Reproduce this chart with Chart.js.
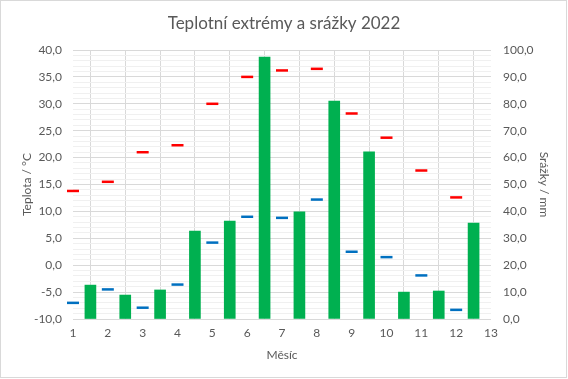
<!DOCTYPE html>
<html>
<head>
<meta charset="utf-8">
<script src="https://cdn.jsdelivr.net/npm/chart.js@4/dist/chart.umd.min.js"></script>
<style>
html,body{margin:0;padding:0;background:#fff;}
#wrap{width:568px;height:379px;position:relative;}
</style>
</head>
<body>
<div id="wrap"><canvas id="c" width="568" height="379"></canvas></div>
<script>
const months = [1,2,3,4,5,6,7,8,9,10,11,12];
const maxTemp = [13.8, 15.5, 21.0, 22.3, 30.0, 35.0, 36.2, 36.5, 28.2, 23.7, 17.6, 12.6];
const minTemp = [-7.0, -4.5, -7.9, -3.6, 4.2, 9.0, 8.8, 12.2, 2.5, 1.5, -1.9, -8.3];
const precip = [12.6, 8.9, 10.8, 32.7, 36.4, 97.4, 39.8, 81.0, 62.1, 10.0, 10.4, 35.7];
const precipX = [1.5,2.5,3.5,4.5,5.5,6.5,7.5,8.5,9.5,10.5,11.5,12.5];

const FONT = 'Lato, "Liberation Sans", sans-serif';
const TXT = '#595959';
const fmt = v => v.toFixed(1).replace('.', ',');

const bgPlugin = {
  id: 'bg',
  beforeDraw(chart) {
    const ctx = chart.ctx;
    ctx.save();
    ctx.fillStyle = '#fff';
    ctx.fillRect(0, 0, chart.width, chart.height);
    ctx.strokeStyle = '#d9d9d9';
    ctx.lineWidth = 1;
    ctx.strokeRect(0.5, 0.5, chart.width - 2, chart.height - 2);
    ctx.restore();
  }
};

new Chart(document.getElementById('c'), {
  type: 'scatter',
  data: {
    datasets: [
      {
        label: 'Max',
        data: months.map((m, i) => ({x: m, y: maxTemp[i]})),
        pointStyle: 'line',
        radius: 6,
        borderColor: '#ff0000',
        backgroundColor: '#ff0000',
        borderWidth: 2.5,
        yAxisID: 'y',
        clip: false,
        order: 1
      },
      {
        label: 'Min',
        data: months.map((m, i) => ({x: m, y: minTemp[i]})),
        pointStyle: 'line',
        radius: 6,
        borderColor: '#0070c0',
        backgroundColor: '#0070c0',
        borderWidth: 2.5,
        yAxisID: 'y',
        clip: false,
        order: 1
      },
      {
        type: 'bar',
        label: 'Srážky',
        data: precipX.map((x, i) => ({x: x, y: precip[i]})),
        backgroundColor: '#00b050',
        borderWidth: 0,
        barThickness: 11,
        yAxisID: 'y1',
        order: 2
      }
    ]
  },
  options: {
    responsive: false,
    animation: false,
    events: [],
    layout: {padding: 0},
    plugins: {
      legend: {display: false},
      tooltip: {enabled: false},
      title: {
        display: true,
        text: 'Teplotní extrémy a srážky 2022',
        color: TXT,
        font: {family: FONT, size: 17, weight: 'normal', lineHeight: '22px'},
        padding: {top: 13, bottom: 15}
      }
    },
    scales: {
      x: {
        type: 'linear',
        min: 1, max: 13,
        offset: false,
        ticks: {stepSize: 1, color: TXT, font: {family: FONT, size: 12}, padding: 7, autoSkip: false, maxRotation: 0},
        grid: {color: '#d9d9d9', drawTicks: false},
        border: {display: false},
        title: {display: true, text: 'Měsíc', color: TXT, font: {family: FONT, size: 12}, padding: {top: 0, bottom: 17}},
        afterFit(s) { s.height = 60; }
      },
      y: {
        type: 'linear',
        position: 'left',
        min: -10, max: 40,
        ticks: {
          stepSize: 1, autoSkip: false, color: TXT, font: {family: FONT, size: 12}, padding: 11,
          callback: v => (Math.abs(v % 5) < 1e-6 ? fmt(v) : '')
        },
        grid: {
          drawTicks: false,
          color: c => (Math.abs(c.tick.value % 5) < 1e-6 ? '#d9d9d9' : '#f0f0f0')
        },
        border: {display: false},
        title: {display: true, text: 'Teplota / °C', color: TXT, font: {family: FONT, size: 12}, padding: {top: 20, bottom: 0}},
        afterFit(s) { s.width = 73; }
      },
      y1: {
        type: 'linear',
        position: 'right',
        min: 0, max: 100,
        ticks: {stepSize: 10, color: TXT, font: {family: FONT, size: 12}, padding: 12, callback: v => fmt(v)},
        grid: {drawOnChartArea: false, drawTicks: false},
        border: {display: false},
        title: {display: true, text: 'Srážky / mm', color: TXT, font: {family: FONT, size: 12}, padding: {top: 17, bottom: 0}},
        afterFit(s) { s.width = 77; }
      }
    }
  },
  plugins: [bgPlugin]
});
</script>
</body>
</html>
